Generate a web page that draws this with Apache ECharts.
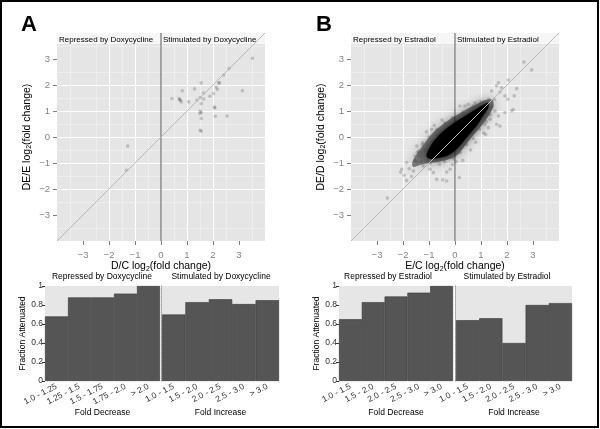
<!DOCTYPE html>
<html><head><meta charset="utf-8">
<script src="https://cdn.jsdelivr.net/npm/echarts@6/dist/echarts.min.js"></script>
<style>html,body{margin:0;padding:0;background:#fff}#c{width:600px;height:429px}</style>
</head><body><div id="c"></div>
<script>
// ---------- data ----------
const scatterTicks = [-3, -2, -1, 0, 1, 2, 3];
const axisMin = -4, axisMax = 4;
const stripBottom = 3.58;
const stripLabelsA = ['Repressed by Doxycycline', 'Stimulated by Doxycycline'];
const stripLabelsB = ['Repressed by Estradiol', 'Stimulated by Estradiol'];
const identityLine = [[-4, -4], [4, 4]];
const zeroLine = [[0, -4], [0, 4]];

// Panel A: DE/E vs D/C (log2 fold change)
const pointsA = [[3.52,3.03],[2.62,2.63],[2.41,2.38],[2.25,2.08],[2.22,2.08],[1.55,2.08],[2.12,1.92],[2.17,1.83],[1.29,1.85],[0.82,1.78],[3.13,1.78],[1.64,1.69],[2.02,1.67],[1.88,1.57],[0.42,1.48],[0.70,1.48],[0.72,1.44],[0.74,1.41],[0.78,1.35],[1.06,1.35],[1.38,1.42],[1.51,1.52],[1.64,1.46],[1.55,1.28],[2.06,1.15],[2.07,1.12],[1.51,1.00],[1.55,0.94],[1.49,0.90],[1.55,0.71],[2.09,0.80],[2.54,0.81],[1.51,0.26],[1.55,0.22],[-1.28,-0.35],[-1.33,-1.28]];

// Panel B: DE/D vs E/C — dense cloud outline (density regions) + sparse points
const cloudHaloB = [[-1.65,-1.0],[-1.5,-0.7],[-1.25,-0.35],[-0.95,0.05],[-0.6,0.38],[-0.2,0.68],[0.2,0.92],[0.6,1.15],[1.0,1.35],[1.3,1.45],[1.45,1.42],[1.48,1.22],[1.35,0.9],[1.15,0.6],[0.95,0.35],[0.65,0.0],[0.35,-0.38],[0.08,-0.7],[-0.2,-0.85],[-0.6,-0.95],[-1.0,-1.0],[-1.35,-1.08],[-1.6,-1.15]];
const cloudCoreB = [[-1.1,-0.72],[-0.98,-0.42],[-0.75,-0.08],[-0.4,0.27],[0.0,0.57],[0.4,0.82],[0.8,1.07],[1.1,1.25],[1.28,1.32],[1.28,1.12],[1.08,0.83],[0.88,0.5],[0.6,0.15],[0.3,-0.2],[0.0,-0.53],[-0.3,-0.72],[-0.7,-0.82],[-0.98,-0.84]];
const pointsB = [[-2.60,-2.35],[-2.09,-1.35],[-1.96,-1.47],[-1.86,-1.67],[-1.76,-1.22],[-1.67,-1.52],[-1.60,-1.31],[-1.47,-0.96],[-1.41,-0.54],[-1.35,-0.73],[-1.24,-0.22],[-1.22,-1.12],[-1.09,-0.92],[-0.96,-1.24],[-0.83,-1.37],[-0.70,-1.63],[-0.47,-1.65],[-0.32,-1.35],[-0.19,-1.24],[0.17,-1.56],[-1.47,-0.35],[-1.54,-0.73],[-1.86,-0.98],[-2.05,-1.24],[-0.32,-1.69],
 [2.65,2.88],[2.95,2.58],[2.05,2.19],[1.67,2.09],[2.37,1.86],[2.28,1.58],[1.92,1.58],[2.03,1.45],[1.73,1.73],[1.79,1.90],[1.60,1.97],[1.41,1.77],[1.51,1.45],[2.18,1.0],[2.24,1.06],[1.92,0.94],[1.54,1.0],[1.67,0.81],[1.60,0.49],[1.73,0.42],[1.28,0.36],[1.35,0.68],[1.15,0.49],[0.51,1.26],[0.38,1.19],[0.19,1.19],[0.77,1.32],[1.41,1.13],[1.22,1.26],[1.18,0.10],
 [-0.9,0.3],[-0.5,0.65],[-1.1,0.2],[0.3,-0.9],[0.8,-0.2],[1.1,0.15],[0.6,-0.5],[-0.1,-1.05],[0.05,-0.95],[-1.3,-0.6],[-0.8,0.45],
 [-1.55,-0.9],[-1.3,-0.95],[-1.2,-0.5],[-0.95,-1.0],[-0.6,-1.05],[-0.4,-0.95],[-0.05,-0.85],[0.2,-0.6],[0.45,-0.3],[0.7,-0.05],[0.95,0.3],[1.2,0.6],[1.35,0.85],[1.45,1.2],[1.3,1.45],[1.0,1.35],[0.7,1.2],[0.3,0.95],[-0.1,0.75],[-0.4,0.55],[-0.7,0.3],[-1.0,0.0],[-1.25,-0.3],[-1.45,-0.6]];

// Bar panels: fraction attenuated
const fracTicks = [0, 0.2, 0.4, 0.6, 0.8, 1];
const decCatsA = ['1.0 - 1.25', '1.25 - 1.5', '1.5 - 1.75', '1.75 - 2.0', '> 2.0'];
const decValsA = [0.68, 0.88, 0.88, 0.92, 1.0];
const incCatsA = ['1.0 - 1.5', '1.5 - 2.0', '2.0 - 2.5', '2.5 - 3.0', '> 3.0'];
const incValsA = [0.70, 0.83, 0.86, 0.81, 0.85];
const decCatsB = ['1.0 - 1.5', '1.5 - 2.0', '2.0 - 2.5', '2.5 - 3.0', '> 3.0'];
const decValsB = [0.65, 0.83, 0.89, 0.93, 1.0];
const incCatsB = ['1.0 - 1.5', '1.5 - 2.0', '2.0 - 2.5', '2.5 - 3.0', '> 3.0'];
const incValsB = [0.64, 0.66, 0.40, 0.80, 0.82];
const barTitlesA = ['Repressed by Doxycycline', 'Stimulated by Doxycycline'];
const barTitlesB = ['Repressed by Estradiol', 'Stimulated by Estradiol'];

// ---------- chart ----------
const FONT = 'Liberation Sans, Arial, Helvetica, sans-serif';
const chart = echarts.init(document.getElementById('c'), null, {renderer: 'canvas'});
const minus = v => String(v).replace('-', '\u2212');
const subRich = {s: {fontSize: 7, fontFamily: FONT, color: '#000', verticalAlign: 'bottom', padding: [5, 0, 0, 0]}};

function scatterAxis(gi, isX, name) {
  return {
    gridIndex: gi, type: 'value', min: axisMin, max: axisMax, interval: 1,
    axisLine: {show: false, onZero: false},
    axisTick: {show: true, customValues: scatterTicks, length: 4, lineStyle: {color: '#7f7f7f'}},
    axisLabel: {customValues: scatterTicks, color: '#858585', fontSize: 9.5, fontFamily: FONT, margin: isX ? 9 : 7, formatter: minus},
    splitLine: {show: true, showMinLine: false, showMaxLine: false, lineStyle: {color: '#ffffff', width: 1}},
    minorTick: {show: false, splitNumber: 2},
    minorSplitLine: {show: true, lineStyle: {color: '#f3f3f3', width: 0.6}},
    name: name, nameLocation: 'middle', nameGap: isX ? 19 : 24,
    nameTextStyle: {fontSize: 10.5, color: '#000', fontFamily: FONT, rich: subRich}
  };
}

function scatterSeries(gi, labels, pts, extra) {
  const base = [
    {type: 'scatter', xAxisIndex: gi, yAxisIndex: gi, data: [], z: 1, silent: true,
     markArea: {silent: true, itemStyle: {color: '#f6f6f6'},
       label: {show: true, position: 'insideLeft', distance: 2, offset: [0, 1.5], color: '#000', fontSize: 8, fontFamily: FONT},
       data: [[{name: labels[0], xAxis: axisMin, yAxis: stripBottom}, {xAxis: 0, yAxis: axisMax}],
              [{name: labels[1], xAxis: 0, yAxis: stripBottom}, {xAxis: axisMax, yAxis: axisMax}]]}},
    {type: 'line', xAxisIndex: gi, yAxisIndex: gi, data: zeroLine, z: 2, symbol: 'none', silent: true,
     lineStyle: {color: '#555555', width: 1}},
  ];
  return base.concat(extra || [], [
    {type: 'scatter', xAxisIndex: gi, yAxisIndex: gi, data: pts, z: 4, symbolSize: 3.6, silent: true,
     itemStyle: {color: 'rgba(60,60,60,0.3)', borderWidth: 0}},
    {type: 'line', xAxisIndex: gi, yAxisIndex: gi, data: identityLine, z: 5, symbol: 'none', silent: true,
     lineStyle: {color: '#b9b9b9', width: 1}}
  ]);
}

function polySeries(gi, poly, fill, blur, z) {
  return {
    type: 'custom', xAxisIndex: gi, yAxisIndex: gi, data: poly, z: z, silent: true, clip: true,
    encode: {x: 0, y: 1},
    renderItem: (params, api) => {
      if (params.dataIndex !== 0) return null;
      const pts = poly.map(p => api.coord(p));
      return {type: 'polygon', shape: {points: pts, smooth: 0.35},
              style: {fill: fill, shadowBlur: blur, shadowColor: fill}};
    }
  };
}

function barX(gi, cats, name) {
  return {gridIndex: gi, type: 'category', data: cats,
    axisLine: {show: false}, axisTick: {show: false},
    axisLabel: {interval: 0, rotate: 27, fontSize: 8.5, color: '#333', fontFamily: FONT, margin: 5},
    name: name, nameLocation: 'middle', nameGap: 27,
    nameTextStyle: {fontSize: 8.5, color: '#000', fontFamily: FONT}};
}
function barY(gi, left, nameGap) {
  return {gridIndex: gi, type: 'value', min: 0, max: 1, interval: 0.2,
    axisLine: left ? {show: false} : {show: true, onZero: false, lineStyle: {color: '#9a9a9a', type: 'dotted', width: 1}},
    offset: left ? 0 : 1,
    axisTick: {show: left, length: 3, lineStyle: {color: '#333'}},
    axisLabel: {show: left, fontSize: 8.5, color: '#333', fontFamily: FONT, margin: 2},
    splitLine: {show: false},
    name: left ? 'Fraction Attenuated' : '', nameLocation: 'middle', nameGap: nameGap,
    nameTextStyle: {fontSize: 8.5, color: '#000', fontFamily: FONT}};
}
function barSeries(gi, vals) {
  return {type: 'bar', xAxisIndex: gi, yAxisIndex: gi, data: vals, barCategoryGap: '0%', silent: true,
    itemStyle: {color: '#555555', borderColor: '#363636', borderWidth: 0.6}};
}

const gridBase = {show: true, borderWidth: 0, containLabel: false};
const option = {
  animation: false,
  textStyle: {fontFamily: FONT},
  grid: [
    Object.assign({left: 57, top: 33, width: 208, height: 208, backgroundColor: '#e5e5e5'}, gridBase),
    Object.assign({left: 351, top: 33, width: 208, height: 208, backgroundColor: '#e5e5e5'}, gridBase),
    Object.assign({left: 45, top: 286, width: 115, height: 95, backgroundColor: '#e6e6e6'}, gridBase),
    Object.assign({left: 162, top: 286, width: 117, height: 95, backgroundColor: '#e6e6e6'}, gridBase),
    Object.assign({left: 339, top: 286, width: 114, height: 95, backgroundColor: '#e6e6e6'}, gridBase),
    Object.assign({left: 456, top: 286, width: 116, height: 95, backgroundColor: '#e6e6e6'}, gridBase)
  ],
  xAxis: [
    scatterAxis(0, true, 'D/C log{s|2}(fold change)'),
    scatterAxis(1, true, 'E/C log{s|2}(fold change)'),
    barX(2, decCatsA, 'Fold Decrease'),
    barX(3, incCatsA, 'Fold Increase'),
    barX(4, decCatsB, 'Fold Decrease'),
    barX(5, incCatsB, 'Fold Increase')
  ],
  yAxis: [
    scatterAxis(0, false, 'DE/E log{s|2}(fold change)'),
    scatterAxis(1, false, 'DE/D log{s|2}(fold change)'),
    barY(2, true, 13),
    barY(3, false, 0),
    barY(4, true, 17),
    barY(5, false, 0)
  ],
  series: [].concat(
    scatterSeries(0, stripLabelsA, pointsA),
    scatterSeries(1, stripLabelsB, pointsB, [
      polySeries(1, cloudHaloB, 'rgba(25,25,25,0.5)', 12, 3),
      polySeries(1, cloudCoreB, 'rgba(0,0,0,0.95)', 8, 3)
    ]),
    [barSeries(2, decValsA), barSeries(3, incValsA), barSeries(4, decValsB), barSeries(5, incValsB)]
  ),
  graphic: [
    {type: 'rect', shape: {x: 1, y: 1, width: 597, height: 426}, style: {fill: 'none', stroke: '#000', lineWidth: 2}, silent: true, z: 100},
    {type: 'text', x: 21, y: 14, style: {text: 'A', font: 'bold 22px ' + FONT, fill: '#000'}},
    {type: 'text', x: 316, y: 14, style: {text: 'B', font: 'bold 22px ' + FONT, fill: '#000'}},
    {type: 'text', x: 102, y: 277, style: {text: barTitlesA[0], font: '8.5px ' + FONT, fill: '#000', textAlign: 'center', textVerticalAlign: 'middle'}},
    {type: 'text', x: 221, y: 277, style: {text: barTitlesA[1], font: '8.5px ' + FONT, fill: '#000', textAlign: 'center', textVerticalAlign: 'middle'}},
    {type: 'text', x: 388, y: 277, style: {text: barTitlesB[0], font: '8.5px ' + FONT, fill: '#000', textAlign: 'center', textVerticalAlign: 'middle'}},
    {type: 'text', x: 507, y: 277, style: {text: barTitlesB[1], font: '8.5px ' + FONT, fill: '#000', textAlign: 'center', textVerticalAlign: 'middle'}}
  ]
};
chart.setOption(option);
</script></body></html>
